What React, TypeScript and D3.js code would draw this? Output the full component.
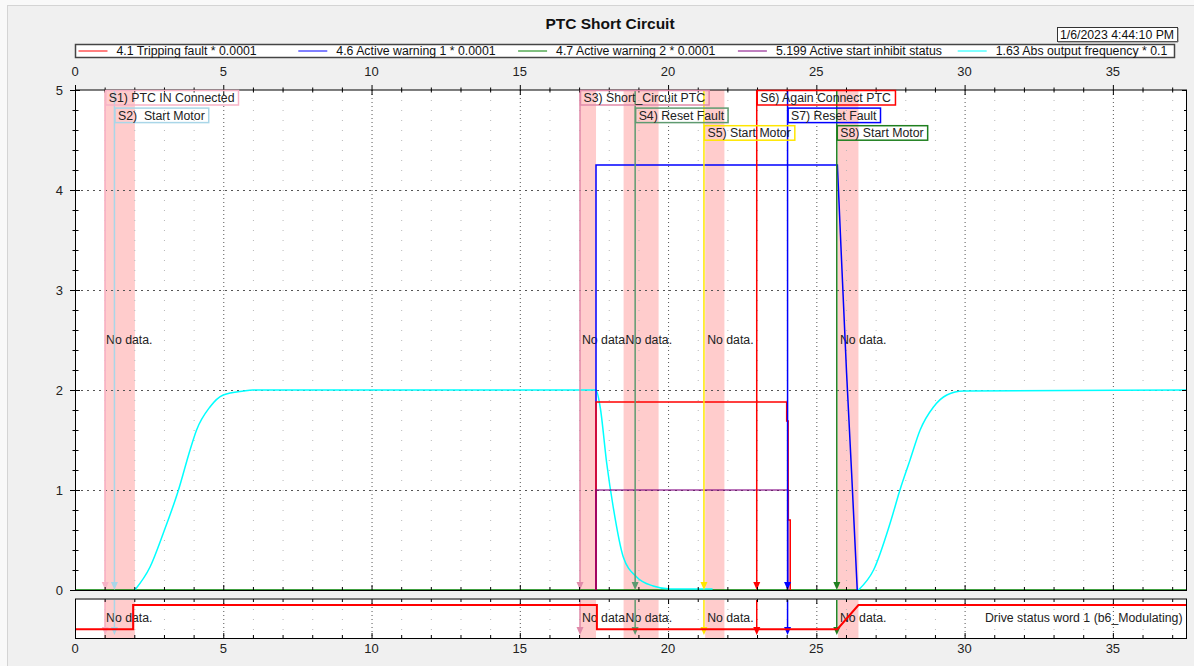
import React from 'react';
import * as d3 from 'd3';

// ---------- data ----------
const TITLE = 'PTC Short Circuit';
const TIMESTAMP = '1/6/2023 4:44:10 PM';
const BOTTOM_LABEL = 'Drive status word 1 (b6_Modulating)';

const xTicks = [0, 5, 10, 15, 20, 25, 30, 35];
const yTicks = [0, 1, 2, 3, 4, 5];

const legendNames = [
  '4.1 Tripping fault * 0.0001',
  '4.6 Active warning 1 * 0.0001',
  '4.7 Active warning 2 * 0.0001',
  '5.199 Active start inhibit status',
  '1.63 Abs output frequency * 0.1',
];
const legendColors = ['#ff0000', '#0000ff', '#008000', '#800080', '#00ffff'];

const eventLabels = [
  'S1) PTC IN Connected',
  'S2)  Start Motor',
  'S3) Short_Circuit PTC',
  'S4) Reset Fault',
  'S5) Start Motor',
  'S6) Again Connect PTC',
  'S7) Reset Fault',
  'S8) Start Motor',
];
const eventTimes = [1.02, 1.33, 17.03, 18.89, 21.21, 22.99, 24.03, 25.69];
const eventRows = [0, 1, 0, 1, 2, 0, 1, 2];
const eventColors = ['#f7b3c6', '#a9d6e8', '#e08aa9', '#5e9a70', '#ffe600', '#ff0000', '#0000ff', '#1f7f1f'];

const noDataStart = [0.98, 17.03, 18.5, 21.25, 25.73];
const noDataEnd = [2.02, 17.57, 19.68, 21.9, 26.42];

// 1.63 Abs output frequency * 0.1 (NaN = gap)
const freqT = [2.02, 2.53, 2.98, 3.49, 3.88, 4.1, 4.55, 5.0, 5.68, 6.0, 17.57, 17.71, 17.93, 18.15, 18.49, 18.94, 19.5, 20.07, 21.5, NaN,
  26.42, 26.93, 27.49, 27.82, 28.16, 28.5, 28.95, 29.4, 29.96, 37.5];
const freqV = [0, 0.23, 0.57, 1.0, 1.4, 1.6, 1.83, 1.95, 1.99, 2.0, 2.0, 1.83, 1.27, 0.83, 0.33, 0.13, 0.04, 0.01, 0.01, NaN,
  0, 0.2, 0.67, 1.0, 1.3, 1.6, 1.83, 1.95, 1.99, 2.0];

// 4.6 Active warning 1 * 0.0001
const warn1T = [17.57, 17.57, 25.71, 25.85, 26.02, 26.19, 26.38];
const warn1V = [0, 4.25, 4.25, 3.3, 2.17, 1.17, 0];

// 4.7 Active warning 2 * 0.0001
const warn2T = [0, 37.5];
const warn2V = [0, 0];

// 4.1 Tripping fault * 0.0001
const tripT = [17.57, 17.57, 24.0, 24.0, 24.05, 24.05, 24.12, 24.12];
const tripV = [0, 1.88, 1.88, 1.69, 1.69, 0.7, 0.7, 0];

// 5.199 Active start inhibit status
const inhibitT = [17.57, 17.57, 24.05, 24.05];
const inhibitV = [0, 1.0, 1.0, 0];

// Drive status word 1 (b6_Modulating)
const modT = [0, 1.96, 1.96, 17.6, 17.6, 25.71, 26.42, 37.5];
const modV = [0, 0, 1, 1, 0, 0, 1, 1];

// ---------- helpers ----------
const FONT = '"Liberation Sans", Arial, sans-serif';
const FS = 12.3;
let ctx: CanvasRenderingContext2D | null = null;
function textWidth(s: string, size: number, weight = 'normal') {
  if (!ctx) ctx = document.createElement('canvas').getContext('2d');
  if (!ctx) return s.length * size * 0.55;
  ctx.font = `${weight} ${size}px ${FONT}`;
  return ctx.measureText(s).width;
}

export default function App() {
  const W = 1194, H = 666;
  const L = 75, R = 1187, T = 90, Bm = 590;
  const BT = 599, BB = 638;
  const x = d3.scaleLinear().domain([0, 37.5]).range([L, R]);
  const y = d3.scaleLinear().domain([0, 5]).range([Bm, T]);
  const yb = d3.scaleLinear().domain([-0.36, 1.25]).range([BB, BT]);

  const xMinor = d3.range(0, 38).filter((v) => v % 5 !== 0);
  const yMinor = d3.range(0, 26).map((v) => v / 5).filter((v) => Math.abs(v - Math.round(v)) > 1e-6);

  const mk = (ts: number[], vs: number[], ys: d3.ScaleLinear<number, number>, curve: d3.CurveFactory = d3.curveLinear) => {
    const pts = ts.map((t, i) => [t, vs[i]] as [number, number]);
    return d3.line<[number, number]>()
      .defined((d) => !isNaN(d[0]) && !isNaN(d[1]))
      .x((d) => x(d[0]))
      .y((d) => ys(d[1]))
      .curve(curve)(pts) || '';
  };

  const arrow = (cx: number, tip: number, color: string, key: string) => (
    <path key={key} d={`M${cx - 3.5},${tip - 8} L${cx + 3.5},${tip - 8} L${cx},${tip} Z`} fill={color} />
  );

  const gridV = (top: number, bottom: number, pre: string) => (
    <g>
      {xMinor.map((v) => (
        <line key={pre + 'm' + v} x1={x(v) + 0.5} x2={x(v) + 0.5} y1={top} y2={bottom} stroke="#b8b8b8" strokeDasharray="1,9" />
      ))}
      {xTicks.filter((v) => v > 0).map((v) => (
        <line key={pre + 'M' + v} x1={x(v) + 0.5} x2={x(v) + 0.5} y1={top} y2={bottom} stroke="#555" strokeDasharray="1,3" />
      ))}
    </g>
  );

  const rowTop = (r: number) => 90.5 + r * 17.6;

  return (
    <svg width={W} height={H} style={{ position: 'fixed', left: 0, top: 0, display: 'block' }} fontFamily={FONT}>
      <defs>
        <clipPath id="mainClip"><rect x={L} y={T} width={R - L} height={Bm - T} /></clipPath>
        <clipPath id="botClip"><rect x={L} y={BT} width={R - L} height={BB - BT} /></clipPath>
      </defs>
      <rect x={0} y={0} width={W} height={H} fill="#f9f9f9" />
      <rect x={7.5} y={5.5} width={W} height={H} fill="#f0f0f0" stroke="#d4d4d4" />

      {/* Title */}
      <text x={610} y={29} textAnchor="middle" fontSize={15.5} fontWeight="bold" fill="#111">{TITLE}</text>

      {/* Timestamp */}
      <rect x={1057.5} y={27.5} width={120} height={14} fill="#fff" stroke="#333" />
      <line x1={1058} x2={1178} y1={42} y2={42} stroke="#777" />
      <line x1={1178} x2={1178} y1={28} y2={42} stroke="#777" />
      <text x={1117} y={38.5} textAnchor="middle" fontSize={FS} fill="#111">{TIMESTAMP}</text>

      {/* Legend */}
      <rect x={75.5} y={44.5} width={1099} height={13} fill="#fff" stroke="#444" strokeWidth={1.5} />
      {legendNames.map((n, i) => {
        const lx = 78.5 + i * 219.8;
        return (
          <g key={'lg' + i}>
            <line x1={lx} x2={lx + 29} y1={51} y2={51} stroke={legendColors[i]} />
            <text x={lx + 38} y={55.3} fontSize={FS} fill="#111">{n}</text>
          </g>
        );
      })}

      {/* Main plot */}
      <rect x={L} y={T} width={R - L} height={Bm - T} fill="#fff" />
      <g clipPath="url(#mainClip)">
        {noDataStart.map((s, i) => (
          <rect key={'nd' + i} x={x(s)} y={T} width={x(noDataEnd[i]) - x(s)} height={Bm - T} fill="#ff9a9a" opacity={0.5} />
        ))}
        {gridV(T, Bm, 'mg')}
        {yTicks.filter((v) => v > 0 && v < 5).map((v) => (
          <line key={'hg' + v} x1={L} x2={R} y1={y(v) + 0.5} y2={y(v) + 0.5} stroke="#555" strokeDasharray="2,4" />
        ))}
        {noDataStart.map((s, i) => (
          <text key={'ndt' + i} x={x(s) + 2} y={344} fontSize={FS} fill="#222">No data.</text>
        ))}
        <path d={mk(warn2T, warn2V, y)} fill="none" stroke={legendColors[2]} strokeWidth={1.5} />
        <path d={mk(freqT, freqV, y, d3.curveMonotoneX)} fill="none" stroke={legendColors[4]} strokeWidth={1.5} />
        <path d={mk(warn1T, warn1V, y)} fill="none" stroke={legendColors[1]} strokeWidth={1.5} />
        <path d={mk(tripT, tripV, y)} fill="none" stroke={legendColors[0]} strokeWidth={1.5} />
        <path d={mk(inhibitT, inhibitV, y)} fill="none" stroke={legendColors[3]} strokeWidth={2} opacity={0.55} />
        {eventTimes.map((t, i) => (
          <g key={'ev' + i}>
            <line x1={x(t)} x2={x(t)} y1={T} y2={Bm - 4} stroke={eventColors[i]} strokeWidth={1.5} />
            {arrow(x(t), Bm, eventColors[i], 'ea' + i)}
          </g>
        ))}
      </g>
      {/* main axes */}
      <line x1={L} x2={R} y1={T} y2={T} stroke="#000" />
      <line x1={L} x2={R} y1={Bm + 0.5} y2={Bm + 0.5} stroke="#000" />
      <line x1={L + 0.5} x2={L + 0.5} y1={T} y2={Bm} stroke="#000" />
      <line x1={R - 0.5} x2={R - 0.5} y1={T} y2={Bm} stroke="#000" />
      {xTicks.map((v) => (
        <g key={'xt' + v}>
          <line x1={x(v) + 0.5} x2={x(v) + 0.5} y1={85} y2={95} stroke="#000" />
          <line x1={x(v) + 0.5} x2={x(v) + 0.5} y1={585} y2={590} stroke="#000" />
          <text x={x(v)} y={75.7} textAnchor="middle" fontSize={13} fill="#222">{v}</text>
        </g>
      ))}
      {xMinor.map((v) => (
        <g key={'xm' + v}>
          <line x1={x(v) + 0.5} x2={x(v) + 0.5} y1={87.5} y2={92.5} stroke="#000" />
          <line x1={x(v) + 0.5} x2={x(v) + 0.5} y1={587} y2={590} stroke="#000" />
        </g>
      ))}
      {yTicks.map((v) => (
        <g key={'yt' + v}>
          <line x1={70} x2={80} y1={y(v) + 0.5} y2={y(v) + 0.5} stroke="#000" />
          <line x1={R - 5} x2={R} y1={y(v) + 0.5} y2={y(v) + 0.5} stroke="#000" />
          <text x={63} y={y(v)} dy="0.36em" textAnchor="end" fontSize={13} fill="#222">{v}</text>
        </g>
      ))}
      {yMinor.map((v) => (
        <g key={'ym' + v}>
          <line x1={72.5} x2={78.5} y1={y(v) + 0.5} y2={y(v) + 0.5} stroke="#000" />
          <line x1={R - 3} x2={R} y1={y(v) + 0.5} y2={y(v) + 0.5} stroke="#000" />
        </g>
      ))}

      {/* Event labels */}
      {eventLabels.map((lab, i) => {
        const bx = x(eventTimes[i]) + 0.5;
        const by = rowTop(eventRows[i]);
        const w = textWidth(lab, FS) + 7;
        return (
          <g key={'el' + i}>
            <rect x={bx} y={by} width={w} height={14.5} fill="none" stroke={eventColors[i]} strokeWidth={1.5} />
            <text x={bx + 3} y={by + 11.5} fontSize={FS} fill="#222" style={{ whiteSpace: 'pre' }}>{lab}</text>
          </g>
        );
      })}

      {/* Bottom panel */}
      <rect x={L} y={BT} width={R - L} height={BB - BT} fill="#fff" />
      <g clipPath="url(#botClip)">
        {noDataStart.map((s, i) => (
          <rect key={'bnd' + i} x={x(s)} y={BT} width={x(noDataEnd[i]) - x(s)} height={BB - BT} fill="#ff9a9a" opacity={0.5} />
        ))}
        {gridV(BT, BB, 'bg')}
        {noDataStart.map((s, i) => (
          <text key={'bndt' + i} x={x(s) + 2} y={622} fontSize={FS} fill="#222">No data.</text>
        ))}
        <text x={1182.5} y={622} textAnchor="end" fontSize={FS} fill="#222">{BOTTOM_LABEL}</text>
        {eventTimes.map((t, i) => (
          <g key={'bev' + i}>
            <line x1={x(t)} x2={x(t)} y1={BT} y2={630} stroke={eventColors[i]} strokeWidth={1.5} />
            {arrow(x(t), 635, eventColors[i], 'bea' + i)}
          </g>
        ))}
        <path d={mk(modT, modV, yb)} fill="none" stroke="#ff0000" strokeWidth={2} />
      </g>
      <line x1={L} x2={R} y1={BT} y2={BT} stroke="#7a7a7a" strokeWidth={2} />
      <line x1={L} x2={R} y1={BB + 0.5} y2={BB + 0.5} stroke="#000" />
      <line x1={L + 0.5} x2={L + 0.5} y1={BT} y2={BB} stroke="#000" />
      <line x1={R - 0.5} x2={R - 0.5} y1={BT} y2={BB} stroke="#000" />
      {xTicks.map((v) => (
        <g key={'bxt' + v}>
          <line x1={x(v) + 0.5} x2={x(v) + 0.5} y1={BB - 5} y2={BB} stroke="#000" />
          <line x1={x(v) + 0.5} x2={x(v) + 0.5} y1={BT} y2={BT + 5} stroke="#000" />
          <text x={x(v)} y={652.5} textAnchor="middle" fontSize={13} fill="#222">{v}</text>
        </g>
      ))}
      {xMinor.map((v) => (
        <g key={'bxm' + v}>
          <line x1={x(v) + 0.5} x2={x(v) + 0.5} y1={BB - 3} y2={BB} stroke="#000" />
          <line x1={x(v) + 0.5} x2={x(v) + 0.5} y1={BT} y2={BT + 3} stroke="#000" />
        </g>
      ))}
    </svg>
  );
}
